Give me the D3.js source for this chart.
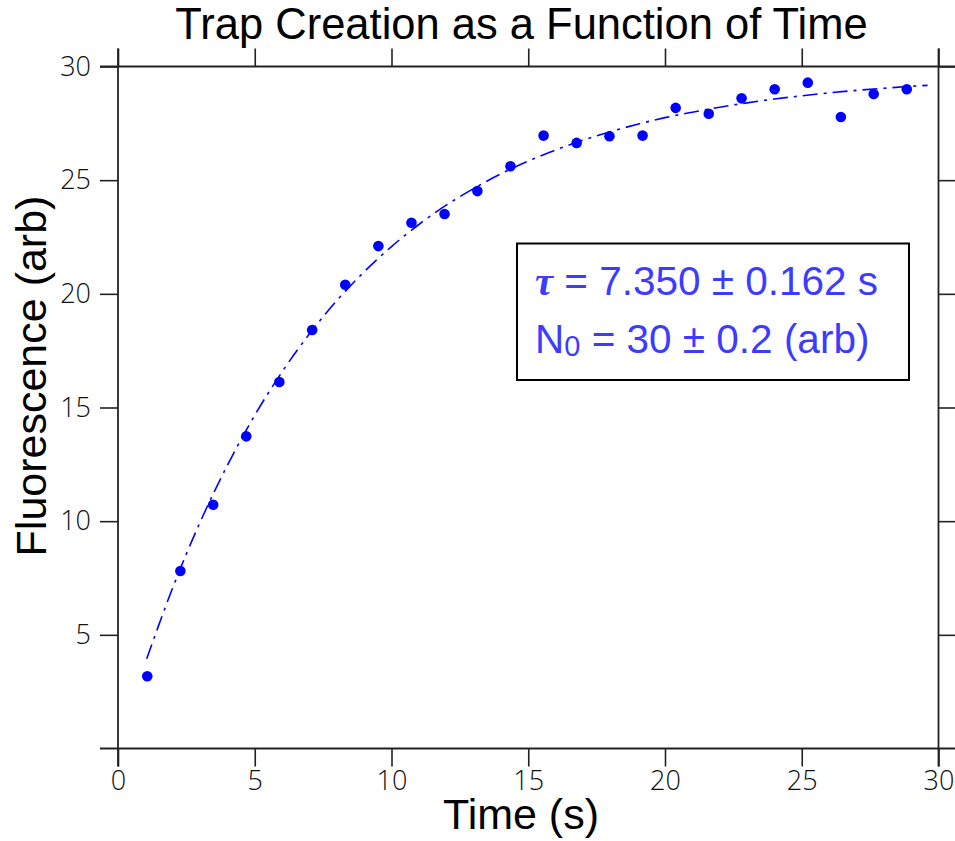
<!DOCTYPE html>
<html><head><meta charset="utf-8">
<script src="https://cdn.jsdelivr.net/npm/d3@7"></script>
<style>body{margin:0;background:#fff}</style>
</head><body>
<svg id="c" width="955" height="841"></svg>
<script>
const timeValues = [1.07, 2.28, 3.48, 4.69, 5.90, 7.10, 8.31, 9.52, 10.73, 11.94, 13.14, 14.35, 15.56, 16.77, 17.97, 19.18, 20.39, 21.60, 22.80, 24.01, 25.22, 26.43, 27.63, 28.84];
const fluorescence = [3.18, 7.81, 10.72, 13.73, 16.12, 18.41, 20.40, 22.10, 23.13, 23.51, 24.52, 25.61, 26.96, 26.64, 26.93, 26.96, 28.18, 27.92, 28.60, 29.00, 29.29, 27.78, 28.79, 29.00];
const fitTime = [1.05, 2, 3, 4, 5, 6, 7, 8, 9, 10, 11, 12, 13, 14, 15, 16, 17, 18, 19, 20, 21, 22, 23, 24, 25, 26, 27, 28, 29, 29.6];
const fitValues = [3.95, 7.07, 9.95, 12.46, 14.66, 16.57, 18.24, 19.70, 20.97, 22.08, 23.05, 23.90, 24.63, 25.28, 25.84, 26.33, 26.76, 27.13, 27.46, 27.75, 27.99, 28.21, 28.40, 28.57, 28.71, 28.84, 28.95, 29.04, 29.13, 29.17];
const xTicks = [0, 5, 10, 15, 20, 25, 30];
const yTicks = [5, 10, 15, 20, 25, 30];
const titleText = "Trap Creation as a Function of Time";
const xLabel = "Time (s)";
const yLabel = "Fluorescence (arb)";
const fitLine1 = ["τ", " = 7.350 ± 0.162 s"];
const fitLine2 = ["N", "0", " = 30 ± 0.2 (arb)"];

const svg = d3.select("#c");
const L = 118, R = 938.5, T = 66.5, B = 748.5;
const x = d3.scaleLinear().domain([0, 30]).range([L, R]);
const y = d3.scaleLinear().domain([0, 30]).range([B, T]);
const tickLen = 18;
const tickFont = "'Open Sans', Lato, sans-serif";

function styleAxis(g){
  g.select(".domain").remove();
  g.selectAll(".tick line").attr("stroke", "#222").attr("stroke-width", 1.6);
  g.selectAll(".tick text").attr("fill", "#111").attr("font-family", tickFont)
    .attr("font-weight", 300).attr("font-size", 27);
}
// bottom
svg.append("g").attr("transform", `translate(0,${B})`)
  .call(d3.axisBottom(x).tickValues(xTicks).tickSize(tickLen).tickPadding(4).tickFormat(d3.format("d")))
  .call(styleAxis);
// top
svg.append("g").attr("transform", `translate(0,${T})`)
  .call(d3.axisTop(x).tickValues(xTicks).tickSize(tickLen).tickFormat(""))
  .call(styleAxis);
// left
svg.append("g").attr("transform", `translate(${L},0)`)
  .call(d3.axisLeft(y).tickValues(yTicks).tickSize(tickLen).tickPadding(9).tickFormat(d3.format("d")))
  .call(styleAxis);
// right
svg.append("g").attr("transform", `translate(${R},0)`)
  .call(d3.axisRight(y).tickValues(yTicks).tickSize(tickLen).tickFormat(""))
  .call(styleAxis);

// frame lines (extending by tick length)
const frame = svg.append("g").attr("stroke", "#222").attr("stroke-width", 1.8);
frame.append("line").attr("x1", L - tickLen).attr("x2", R + tickLen).attr("y1", B).attr("y2", B);
frame.append("line").attr("x1", L - tickLen).attr("x2", R + tickLen).attr("y1", T).attr("y2", T);
frame.append("line").attr("x1", L).attr("x2", L).attr("y1", T - tickLen).attr("y2", B + tickLen);
frame.append("line").attr("x1", R).attr("x2", R).attr("y1", T - tickLen).attr("y2", B + tickLen);

// fit line
const fitData = fitTime.map((t, i) => [t, fitValues[i]]);
svg.append("path").datum(fitData)
  .attr("fill", "none").attr("stroke", "#0000ff").attr("stroke-width", 1.6)
  .attr("stroke-dasharray", "15,6,3,6")
  .attr("d", d3.line().x(d => x(d[0])).y(d => y(d[1])).curve(d3.curveMonotoneX));

// points
svg.append("g").selectAll("circle").data(timeValues.map((t, i) => [t, fluorescence[i]]))
  .join("circle").attr("cx", d => x(d[0])).attr("cy", d => y(d[1])).attr("r", 5.3).attr("fill", "#0000ff");

// title & labels
const labelFont = "'Liberation Sans', Arial, Helvetica, sans-serif";
svg.append("text").attr("x", 521.5).attr("y", 39).attr("text-anchor", "middle")
  .attr("font-family", labelFont).attr("font-size", 43.5).attr("fill", "#000").text(titleText);
svg.append("text").attr("x", 521).attr("y", 829).attr("text-anchor", "middle")
  .attr("font-family", labelFont).attr("font-size", 43).attr("fill", "#000").text(xLabel);
svg.append("text").attr("transform", "translate(46,376) rotate(-90)").attr("text-anchor", "middle")
  .attr("font-family", labelFont).attr("font-size", 43).attr("fill", "#000").text(yLabel);

// fit result box
svg.append("rect").attr("x", 517).attr("y", 243.5).attr("width", 392).attr("height", 136.5)
  .attr("fill", "#fff").attr("stroke", "#000").attr("stroke-width", 2);
const boxColor = "#3c3cff";
const t1 = svg.append("text").attr("x", 535).attr("y", 295).attr("font-family", labelFont)
  .attr("font-size", 40.5).attr("fill", boxColor);
t1.append("tspan").attr("font-family", "'Liberation Serif', 'DejaVu Serif', serif")
  .attr("font-weight", "bold").attr("font-style", "italic").text(fitLine1[0]);
t1.append("tspan").text(fitLine1[1]);
const t2 = svg.append("text").attr("x", 535).attr("y", 353).attr("font-family", labelFont)
  .attr("font-size", 40.5).attr("fill", boxColor);
t2.append("tspan").text(fitLine2[0]);
t2.append("tspan").attr("font-size", 29).attr("dy", 3).text(fitLine2[1]);
t2.append("tspan").attr("dy", -3).text(fitLine2[2]);
</script>
</body></html>
